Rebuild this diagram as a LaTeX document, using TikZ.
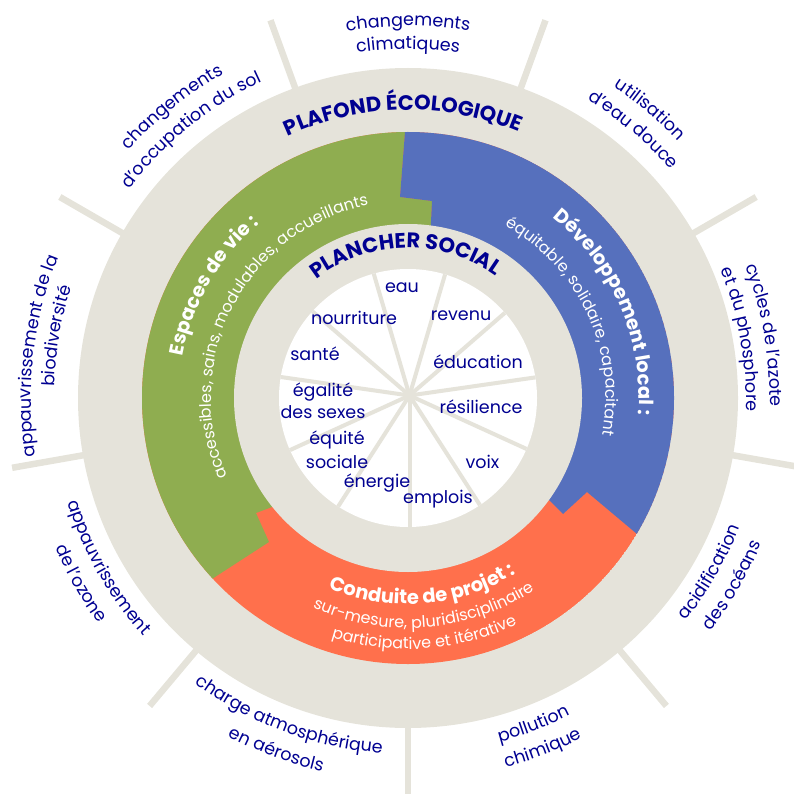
\documentclass[tikz,border=0pt]{standalone}
\usepackage{fontspec}
\setmainfont{Poppins}
\usetikzlibrary{decorations.text}
\definecolor{beige}{HTML}{E5E3DA}
\definecolor{navy}{HTML}{000091}
\definecolor{vert}{HTML}{8FAD50}
\definecolor{bleu}{HTML}{5670BD}
\definecolor{orng}{HTML}{FF704C}
% center angle, baseline radius, half span, format, text
\newcommand\cwtext[5]{%
  \path[decorate,decoration={text along path,text={|#4|#5},text align=center}]
    ({#1+#3}:#2pt) arc[start angle={#1+#3}, end angle={#1-#3}, radius=#2pt];}
\newcommand\ccwtext[5]{%
  \path[decorate,decoration={text along path,text={|#4|#5},text align=center}]
    ({#1-#3}:#2pt) arc[start angle={#1-#3}, end angle={#1+#3}, radius=#2pt];}
\newcommand\labfont{\color{navy}\fontsize{17.5}{20}\selectfont}
\newcommand\bigfont{\color{navy}\bfseries\fontsize{21}{21}\selectfont}
\newcommand\titfont{\color{white}\bfseries\fontsize{19.5}{20}\selectfont}
\newcommand\subfont{\color{white}\fontsize{16}{20}\selectfont}
\tikzset{
  lab/.style={text=navy, font=\fontsize{17.5}{20}\selectfont, anchor=base, inner sep=0pt},
  outerspoke/.style={draw=beige, line width=6.5pt},
  innerspoke/.style={draw=beige, line width=4pt}
}
\begin{document}
\begin{tikzpicture}[x=1pt,y=1pt]
\useasboundingbox (0,0) rectangle (794,-794);
\begin{scope}[shift={(408,-398)}]
  % outer dividing lines
  \foreach \a in {70,30,-10,-50,-90,230,190,150,110}
    \draw[outerspoke] (\a:300pt) -- (\a:402pt);
  % ecological ceiling disc
  \fill[beige] (0,0) circle[radius=330pt];
  % coloured band
  \begin{scope}
    \clip (0,0) circle[radius=266pt];
    \fill[orng] (0,0) circle[radius=266pt];
    \fill[vert] (-1,400) -- (-1,300) -- (-3,266) -- (-8,201) -- (24,197) -- (23,176) -- (22,150)
      -- (0,0) -- (-110,-99) -- (-136,-109) -- (-152,-115) -- (-139,-144) -- (-193,-179)
      -- (-220,-197) -- (-400,-400) -- (-400,400) -- cycle;
    \fill[bleu] (-1,400) -- (-1,300) -- (-3,266) -- (-8,201) -- (24,197) -- (23,176) -- (22,150)
      -- (0,0) -- (120,-81) -- (143,-104) -- (155,-116) -- (179,-94) -- (229,-136)
      -- (260,-162) -- (400,-400) -- (400,400) -- cycle;
  \end{scope}
  % social foundation ring and hub
  \fill[beige] (0,0) circle[radius=174pt];
  \fill[white] (0,0) circle[radius=129pt];
  \begin{scope}
    \clip (0,0) circle[radius=129pt];
    \foreach \k in {0,...,10}
      \draw[innerspoke] (1.5,2.5) -- ++({-90+\k*360/11}:140pt);
  \end{scope}
  % ring titles
  \cwtext{91}{288}{80}{\bigfont}{PLAFOND ÉCOLOGIQUE}
  \cwtext{91}{150}{85}{\bigfont}{PLANCHER SOCIAL}
  % band texts
  \cwtext{150}{229}{60}{\titfont}{Espaces de vie :}
  \cwtext{152.5}{197}{80}{\subfont}{accessibles, sains, modulables, accueillants}
  \cwtext{23.6}{231}{60}{\titfont}{Développement local :}
  \cwtext{25}{198}{70}{\subfont}{équitable, solidaire, capacitant}
  \ccwtext{274.5}{206}{60}{\titfont}{Conduite de projet :}
  \ccwtext{274.5}{230}{60}{\subfont}{sur-mesure, pluridisciplinaire}
  \ccwtext{274}{251}{60}{\subfont}{participative et itérative}
  % planetary boundaries
  \cwtext{90}{372}{30}{\labfont}{changements}
  \cwtext{90}{349}{30}{\labfont}{climatiques}
  \cwtext{129}{373}{30}{\labfont}{changements}
  \cwtext{129}{348}{30}{\labfont}{d'occupation du sol}
  \cwtext{50}{373}{30}{\labfont}{utilisation}
  \cwtext{50}{348}{30}{\labfont}{d'eau douce}
  \cwtext{10}{362}{30}{\labfont}{cycles de l'azote}
  \cwtext{10}{338}{30}{\labfont}{et du phosphore}
  \cwtext{173.5}{377}{30}{\labfont}{appauvrissement de la}
  \cwtext{170}{354}{30}{\labfont}{biodiversité}
  \ccwtext{209.5}{356}{30}{\labfont}{appauvrissement}
  \ccwtext{209.5}{383}{30}{\labfont}{de l'ozone}
  \ccwtext{249.5}{356}{30}{\labfont}{charge atmosphérique}
  \ccwtext{249.5}{383}{30}{\labfont}{en aérosols}
  \ccwtext{291}{356}{30}{\labfont}{pollution}
  \ccwtext{291}{382}{30}{\labfont}{chimique}
  \ccwtext{330}{356}{30}{\labfont}{acidification}
  \ccwtext{330}{382}{30}{\labfont}{des océans}
  % social foundation labels
  \node[lab] (eau) at (-6,106) {eau};
  \node[lab] (nourriture) at (-54,74) {nourriture};
  \node[lab] (revenu) at (53,78) {revenu};
  \node[lab] (sante) at (-93,38) {santé};
  \node[lab] (education) at (70,30) {éducation};
  \node[lab] (egal1) at (-85,2) {égalité};
  \node[lab] (egal2) at (-85,-20) {des sexes};
  \node[lab] (resilience) at (73,-15) {résilience};
  \node[lab] (equite1) at (-71,-46) {équité};
  \node[lab] (equite2) at (-71,-70) {sociale};
  \node[lab] (voix) at (74.5,-70) {voix};
  \node[lab] (energie) at (-31,-89) {énergie};
  \node[lab] (emplois) at (30,-105) {emplois};
\end{scope}
\end{tikzpicture}
\end{document}
